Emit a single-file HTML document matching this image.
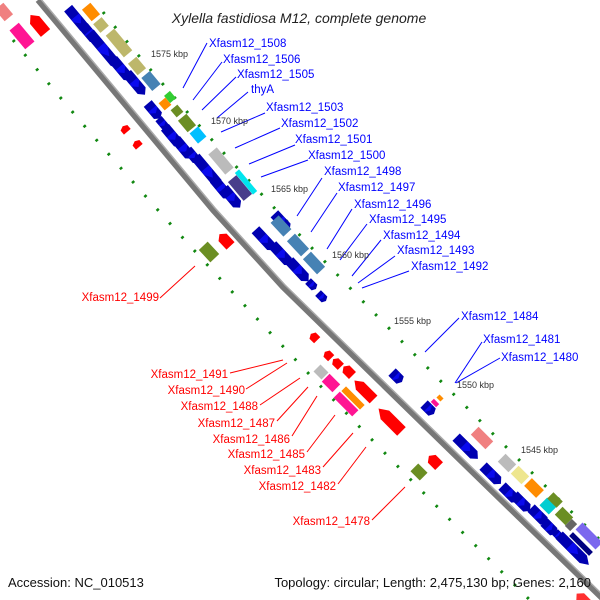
<!DOCTYPE html>
<html><head><meta charset="utf-8"><style>
html,body{margin:0;padding:0;background:#fff}
svg{display:block}
text{font-family:"Liberation Sans","DejaVu Sans",sans-serif}
.b{fill:#0000ff;font-size:11.5px}
.r{fill:#ff0000;font-size:11.5px}
.k{fill:#333;font-size:9px}
</style></head><body>
<svg width="600" height="600" viewBox="0 0 600 600" xmlns="http://www.w3.org/2000/svg">
<defs>
<polygon id="f" points="-0.45,-5.5 0.2,-5.5 0.45,0 0.2,5.5 -0.45,5.5"/>
<polygon id="v" points="0.45,-5.5 -0.2,-5.5 -0.45,0 -0.2,5.5 0.45,5.5"/>
<rect id="x" x="-0.47" y="-5.5" width="0.94" height="11"/>
</defs>
<path d="M103,12 Q244,190 600,540" fill="none" stroke="#118811" stroke-width="3" stroke-dasharray="2.5 16"/>
<path d="M13,40 Q204,277 560,630" fill="none" stroke="#118811" stroke-width="3" stroke-dasharray="2.5 16"/>
<path d="M38,0 L88,60 L213,210 L283,287 L457,457 L602,598" fill="none" stroke="#777" stroke-width="6" stroke-linejoin="round"/>
<path d="M40,-2 L90,58 L215,208 L285,285 L459,455 L604,596" fill="none" stroke="#aaa" stroke-width="1.5" stroke-linejoin="round"/>

<g transform="translate(2,-2)">
<g fill="#0a0aee" stroke="#0000b0" stroke-width="0.5">
<use href="#f" transform="translate(76,22) rotate(50) scale(22,0.9)"/>
<use href="#f" transform="translate(88,36) rotate(50) scale(14,0.9)"/>
<use href="#f" transform="translate(103,53) rotate(50) scale(34,0.9)"/>
<use href="#f" transform="translate(120,72) rotate(50) scale(20,0.9)"/>
<use href="#f" transform="translate(134,86) rotate(50) scale(20,0.9)"/>
<use href="#f" transform="translate(152,113) rotate(50) scale(14,0.9)"/>
<use href="#f" transform="translate(161,126) rotate(50) scale(10,0.7)"/>
<use href="#f" transform="translate(171,139) rotate(50) scale(18,0.9)"/>
<use href="#f" transform="translate(182,151) rotate(50) scale(18,0.9)"/>
<use href="#f" transform="translate(191,158) rotate(50) scale(12,0.8)"/>
<use href="#f" transform="translate(207,175) rotate(50) scale(30,0.9)"/>
<use href="#f" transform="translate(220,191) rotate(50) scale(18,0.9)"/>
<use href="#f" transform="translate(230,200) rotate(50) scale(18,0.9)"/>
<use href="#f" transform="translate(280,224) rotate(47) scale(16,0.9)"/>
<use href="#f" transform="translate(263,242) rotate(47) scale(20,0.9)"/>
<use href="#f" transform="translate(280,257) rotate(47) scale(20,0.9)"/>
<use href="#f" transform="translate(297,273) rotate(47) scale(20,0.9)"/>
<use href="#f" transform="translate(310,287) rotate(45) scale(8,0.7)"/>
<use href="#f" transform="translate(320,299) rotate(45) scale(8,0.7)"/>
<use href="#f" transform="translate(395,379) rotate(45) scale(10,0.9)"/>
<use href="#f" transform="translate(427,411) rotate(45) scale(10,0.9)"/>
<use href="#f" transform="translate(465,450) rotate(45) scale(22,0.9)"/>
<use href="#f" transform="translate(490,477) rotate(45) scale(18,0.9)"/>
<use href="#f" transform="translate(508,496) rotate(45) scale(16,0.9)"/>
<use href="#f" transform="translate(520,505) rotate(45) scale(16,0.9)"/>
<use href="#f" transform="translate(537,518) rotate(45) scale(16,0.9)"/>
<use href="#f" transform="translate(548,530) rotate(45) scale(12,0.9)"/>
<use href="#f" transform="translate(556,537) rotate(45) scale(6,0.7)"/>
<use href="#f" transform="translate(572,552) rotate(45) scale(30,0.9)"/>
</g>
<g stroke="none">
<use href="#x" fill="#ff8c00" transform="translate(89,14) rotate(50) scale(16,1)"/>
<use href="#x" fill="#bdb76b" transform="translate(99,27) rotate(50) scale(12,1)"/>
<use href="#x" fill="#bdb76b" transform="translate(117,45) rotate(50) scale(30,1)"/>
<use href="#x" fill="#bdb76b" transform="translate(135,68) rotate(50) scale(16,1)"/>
<use href="#x" fill="#4682b4" transform="translate(149,83) rotate(50) scale(18,1)"/>
<use href="#x" fill="#ff8c00" transform="translate(163,106) rotate(50) scale(10,0.8)"/>
<use href="#x" fill="#32cd32" transform="translate(168,99) rotate(50) scale(10,0.7)"/>
<use href="#x" fill="#6b8e23" transform="translate(175,113) rotate(50) scale(10,0.8)"/>
<use href="#x" fill="#6b8e23" transform="translate(185,125) rotate(50) scale(16,1)"/>
<use href="#x" fill="#00bfff" transform="translate(196,137) rotate(50) scale(14,1)"/>
<use href="#x" fill="#bbbbbb" transform="translate(219,163) rotate(50) scale(28,1)"/>
<use href="#x" fill="#483d8b" transform="translate(238,190) rotate(50) scale(26,1)"/>
<use href="#x" fill="#00e5ee" transform="translate(244,184) rotate(50) scale(30,0.5)"/>
<use href="#x" fill="#4682b4" transform="translate(279,228) rotate(47) scale(20,1)"/>
<use href="#x" fill="#4682b4" transform="translate(296,247) rotate(47) scale(22,1)"/>
<use href="#x" fill="#4682b4" transform="translate(312,265) rotate(47) scale(22,1)"/>
<use href="#x" fill="#f08080" transform="translate(480,440) rotate(45) scale(22,1)"/>
<use href="#x" fill="#bbbbbb" transform="translate(505,465) rotate(45) scale(16,1)"/>
<use href="#x" fill="#eee68f" transform="translate(518,477) rotate(45) scale(16,1)"/>
<use href="#x" fill="#ff8c00" transform="translate(532,490) rotate(45) scale(18,1)"/>
<use href="#x" fill="#00ced1" transform="translate(546,508) rotate(45) scale(14,1)"/>
<use href="#x" fill="#6b8e23" transform="translate(553,502) rotate(45) scale(14,0.8)"/>
<use href="#x" fill="#6b8e23" transform="translate(562,518) rotate(45) scale(16,1)"/>
<use href="#x" fill="#666666" transform="translate(569,527) rotate(45) scale(8,0.9)"/>
<use href="#x" fill="#7b68ee" transform="translate(587,538) rotate(45) scale(30,0.9)"/>
<use href="#x" fill="#000080" transform="translate(579,546) rotate(45) scale(30,0.5)"/>
</g>
</g>
<g stroke="none" transform="translate(-2,2)">
<use href="#x" fill="#f08080" transform="translate(6,10) rotate(50) scale(16,1)"/>
<use href="#x" fill="#ff1493" transform="translate(24,34) rotate(50) scale(26,1.1)"/>
<use href="#v" fill="#ff0000" transform="translate(40,22) rotate(50) scale(26,1.1)"/>
<use href="#v" fill="#ff0000" transform="translate(127,127) rotate(50) scale(8,0.8)"/>
<use href="#v" fill="#ff0000" transform="translate(139,142) rotate(50) scale(8,0.8)"/>
<use href="#x" fill="#6b8e23" transform="translate(211,250) rotate(47) scale(18,1.1)"/>
<use href="#v" fill="#ff0000" transform="translate(227,238) rotate(47) scale(18,1)"/>
<use href="#v" fill="#ff0000" transform="translate(316,335) rotate(45) scale(10,0.8)"/>
<use href="#v" fill="#ff0000" transform="translate(330,353) rotate(45) scale(10,0.8)"/>
<use href="#v" fill="#ff0000" transform="translate(339,361) rotate(45) scale(12,0.8)"/>
<use href="#v" fill="#ff0000" transform="translate(350,369) rotate(45) scale(14,0.9)"/>
<use href="#x" fill="#bbbbbb" transform="translate(323,370) rotate(45) scale(12,0.9)"/>
<use href="#x" fill="#ff1493" transform="translate(333,381) rotate(45) scale(16,1)"/>
<use href="#v" fill="#ff0000" transform="translate(366,388) rotate(45) scale(30,1)"/>
<use href="#x" fill="#ff1493" transform="translate(348,402) rotate(45) scale(28,0.8)"/>
<use href="#x" fill="#ff8c00" transform="translate(355,396) rotate(45) scale(28,0.6)"/>
<use href="#v" fill="#ff0000" transform="translate(392,418) rotate(45) scale(36,1.1)"/>
<use href="#x" fill="#ff1493" transform="translate(437,401) rotate(45) scale(8,0.4)"/>
<use href="#x" fill="#ff8c00" transform="translate(442,396) rotate(45) scale(6,0.4)"/>
<use href="#x" fill="#6b8e23" transform="translate(421,470) rotate(45) scale(14,1)"/>
<use href="#v" fill="#ff0000" transform="translate(436,459) rotate(45) scale(16,1)"/>
<use href="#v" fill="#ff3030" transform="translate(585,598) rotate(45) scale(20,1)"/>
</g>

<g stroke="#0000ff" stroke-width="1">
<line x1="207" y1="43" x2="183" y2="88"/>
<line x1="222" y1="62" x2="193" y2="100"/>
<line x1="236" y1="77" x2="202" y2="110"/>
<line x1="248" y1="92" x2="217" y2="118"/>
<line x1="265" y1="113" x2="221" y2="132"/>
<line x1="280" y1="128" x2="235" y2="148"/>
<line x1="295" y1="145" x2="249" y2="164"/>
<line x1="308" y1="160" x2="261" y2="177"/>
<line x1="322" y1="178" x2="297" y2="216"/>
<line x1="337" y1="193" x2="311" y2="232"/>
<line x1="352" y1="209" x2="327" y2="249"/>
<line x1="367" y1="224" x2="340" y2="260"/>
<line x1="381" y1="240" x2="352" y2="276"/>
<line x1="395" y1="256" x2="358" y2="283"/>
<line x1="409" y1="271" x2="362" y2="288"/>
<line x1="459" y1="318" x2="425" y2="352"/>
<line x1="482" y1="342" x2="455" y2="383"/>
<line x1="500" y1="358" x2="456" y2="383"/>
</g>
<g stroke="#ff0000" stroke-width="1">
<line x1="160" y1="298" x2="195" y2="266"/>
<line x1="230" y1="373" x2="283" y2="360"/>
<line x1="246" y1="389" x2="287" y2="363"/>
<line x1="260" y1="405" x2="300" y2="378"/>
<line x1="277" y1="421" x2="308" y2="387"/>
<line x1="292" y1="436" x2="317" y2="396"/>
<line x1="307" y1="452" x2="335" y2="415"/>
<line x1="323" y1="467" x2="353" y2="433"/>
<line x1="338" y1="484" x2="366" y2="447"/>
<line x1="372" y1="520" x2="405" y2="487"/>
</g>

<text class="b" x="209" y="47">Xfasm12_1508</text>
<text class="b" x="223" y="63">Xfasm12_1506</text>
<text class="b" x="237" y="78">Xfasm12_1505</text>
<text class="b" x="251" y="93">thyA</text>
<text class="b" x="266" y="111">Xfasm12_1503</text>
<text class="b" x="281" y="127">Xfasm12_1502</text>
<text class="b" x="295" y="143">Xfasm12_1501</text>
<text class="b" x="308" y="159">Xfasm12_1500</text>
<text class="b" x="324" y="175">Xfasm12_1498</text>
<text class="b" x="338" y="191">Xfasm12_1497</text>
<text class="b" x="354" y="208">Xfasm12_1496</text>
<text class="b" x="369" y="223">Xfasm12_1495</text>
<text class="b" x="383" y="239">Xfasm12_1494</text>
<text class="b" x="397" y="254">Xfasm12_1493</text>
<text class="b" x="411" y="270">Xfasm12_1492</text>
<text class="b" x="461" y="320">Xfasm12_1484</text>
<text class="b" x="483" y="343">Xfasm12_1481</text>
<text class="b" x="501" y="361">Xfasm12_1480</text>

<g text-anchor="end">
<text class="r" x="159" y="301">Xfasm12_1499</text>
<text class="r" x="228" y="378">Xfasm12_1491</text>
<text class="r" x="245" y="394">Xfasm12_1490</text>
<text class="r" x="258" y="410">Xfasm12_1488</text>
<text class="r" x="275" y="427">Xfasm12_1487</text>
<text class="r" x="290" y="443">Xfasm12_1486</text>
<text class="r" x="305" y="458">Xfasm12_1485</text>
<text class="r" x="321" y="474">Xfasm12_1483</text>
<text class="r" x="336" y="490">Xfasm12_1482</text>
<text class="r" x="370" y="525">Xfasm12_1478</text>
</g>

<text class="k" x="151" y="57">1575 kbp</text>
<text class="k" x="211" y="124">1570 kbp</text>
<text class="k" x="271" y="192">1565 kbp</text>
<text class="k" x="332" y="258">1560 kbp</text>
<text class="k" x="394" y="324">1555 kbp</text>
<text class="k" x="457" y="388">1550 kbp</text>
<text class="k" x="521" y="453">1545 kbp</text>

<text x="299" y="23" text-anchor="middle" font-style="italic" font-size="14" fill="#222">Xylella fastidiosa M12, complete genome</text>
<text x="8" y="587" font-size="13" fill="#111">Accession: NC_010513</text>
<text x="591" y="587" text-anchor="end" font-size="13" fill="#111">Topology: circular; Length: 2,475,130 bp; Genes: 2,160</text>
</svg>
</body></html>
